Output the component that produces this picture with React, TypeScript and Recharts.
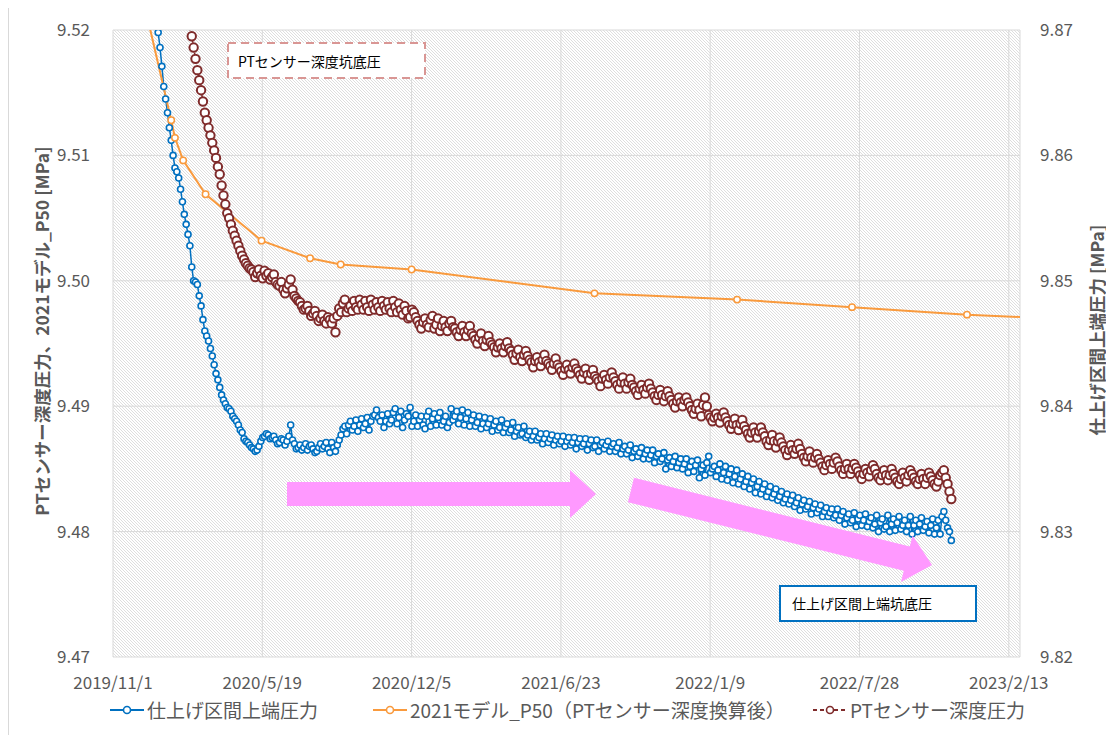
import React from 'react';
import { LineChart, Line, XAxis, YAxis, CartesianGrid, Legend } from 'recharts';

// ---- axes ----
const xTickSerials = [43770, 43970, 44170, 44370, 44570, 44770, 44970];
const xTickLabels = ['2019/11/1', '2020/5/19', '2020/12/5', '2021/6/23', '2022/1/9', '2022/7/28', '2023/2/13'];
const xDomain = [43770, 44985];
const leftTicks = [9.47, 9.48, 9.49, 9.5, 9.51, 9.52];
const rightTicks = [9.82, 9.83, 9.84, 9.85, 9.86, 9.87];

// ---- series ----
// 仕上げ区間上端圧力 (right axis): readings every 5 days from day 58 after 2019/11/1,
// plus the readings in between (day 60.5 + 5i)
const DAY0 = 43770;
const sampleStep = 5;
const blueStartDay = 58;
const blueValues = [
  9.8712, 9.8686, 9.8655, 9.8634, 9.8612, 9.859, 9.8582, 9.8563, 9.8545, 9.8528,
  9.85, 9.8497, 9.848, 9.846, 9.8452, 9.844, 9.8426, 9.8415, 9.8405, 9.8399,
  9.8396, 9.839, 9.8385, 9.8379, 9.8372, 9.8369, 9.8366, 9.8365, 9.8372, 9.8376,
  9.8377, 9.8375, 9.8373, 9.8371, 9.8373, 9.8372, 9.8385, 9.837, 9.8367, 9.8365,
  9.837, 9.8368, 9.8366, 9.8364, 9.837, 9.8368, 9.8366, 9.8371, 9.8364, 9.8373,
  9.8382, 9.8378, 9.8388, 9.8384, 9.838, 9.839, 9.8386, 9.8381, 9.8392, 9.8397,
  9.8388, 9.8383, 9.8394, 9.8389, 9.8398, 9.8391, 9.8383, 9.8394, 9.8399, 9.8388,
  9.8384, 9.8392, 9.8382, 9.8396, 9.839, 9.8385, 9.8395, 9.8388, 9.8383, 9.8398,
  9.8392, 9.8386, 9.8397, 9.839, 9.8384, 9.8393, 9.8387, 9.8382, 9.8391, 9.8386,
  9.838, 9.8388, 9.8383, 9.8379, 9.8386, 9.8381, 9.8376, 9.8383, 9.8378, 9.8375,
  9.838, 9.8376, 9.8373, 9.8378, 9.8374, 9.8371, 9.8377, 9.8373, 9.837, 9.8376,
  9.8372, 9.8369, 9.8375, 9.8371, 9.8368, 9.8374, 9.837, 9.8367, 9.8373, 9.8369,
  9.8366, 9.8372, 9.8368, 9.8364, 9.8371, 9.8366, 9.8362, 9.8369, 9.8364, 9.836,
  9.8367, 9.8362, 9.8358, 9.8365, 9.836, 9.8356, 9.8363, 9.8357, 9.8352, 9.836,
  9.8355, 9.835, 9.8358, 9.8352, 9.8348, 9.8357, 9.835, 9.8345, 9.836, 9.835,
  9.8344, 9.8354, 9.8347, 9.8341, 9.835, 9.8344, 9.8338, 9.8346, 9.834, 9.8334,
  9.8342, 9.8336, 9.833, 9.8338, 9.8332, 9.8327, 9.8334, 9.8328, 9.8323, 9.833,
  9.8325, 9.832, 9.8327, 9.8322, 9.8318, 9.8324, 9.8319, 9.8315, 9.8321, 9.8316,
  9.8312, 9.8318, 9.8313, 9.8309, 9.8316, 9.8311, 9.8307, 9.8315, 9.831, 9.8305,
  9.8314, 9.8308, 9.8303, 9.8313, 9.8307, 9.8302, 9.8313, 9.8306, 9.8301, 9.8312,
  9.8305, 9.83, 9.8312, 9.8305, 9.83, 9.8311, 9.8304, 9.8299, 9.831, 9.8303,
  9.8298, 9.8316, 9.8303, 9.8293,
];
const blueMidStartDay = 60.5;
const blueMidValues = [
  9.8698, 9.8671, 9.8645, 9.8622, 9.86, 9.8587, 9.8573, 9.8553, 9.8537, 9.8511,
  9.8499, 9.8488, 9.8469, 9.8456, 9.8446, 9.8433, 9.8421, 9.8409, 9.8402, 9.8398,
  9.8392, 9.8388, 9.8381, 9.8374, 9.8371, 9.8367, 9.8364, 9.8368, 9.8375, 9.8378,
  9.8374, 9.8376, 9.837, 9.8374, 9.8369, 9.8376, 9.8373, 9.8366, 9.8369, 9.8367,
  9.8365, 9.8369, 9.8363, 9.8367, 9.8366, 9.8371, 9.8363, 9.8367, 9.8369, 9.8377,
  9.8384, 9.8385, 9.8381, 9.8389, 9.8385, 9.8383, 9.8391, 9.8388, 9.8393, 9.8391,
  9.8393, 9.8388, 9.8386, 9.8395, 9.8386, 9.8396, 9.8389, 9.8392, 9.8384, 9.8393,
  9.8389, 9.8385, 9.8392, 9.8384, 9.8394, 9.8391, 9.8385, 9.8392, 9.8387, 9.8389,
  9.8396, 9.8391, 9.8385, 9.8395, 9.8389, 9.8384, 9.8392, 9.8386, 9.8383, 9.839,
  9.8385, 9.8381, 9.8389, 9.8383, 9.8379, 9.8387, 9.838, 9.8377, 9.8384, 9.8377,
  9.8373, 9.838, 9.8375, 9.837, 9.8378, 9.8374, 9.8369, 9.8376, 9.8372, 9.8368,
  9.8375, 9.8371, 9.8366, 9.8374, 9.837, 9.8365, 9.8373, 9.8368, 9.8364, 9.8371,
  9.8369, 9.8364, 9.837, 9.8367, 9.8362, 9.8368, 9.8365, 9.8359, 9.8366, 9.8363,
  9.8358, 9.8365, 9.8361, 9.8355, 9.8362, 9.8358, 9.835, 9.8359, 9.8356, 9.8351,
  9.8358, 9.8354, 9.8347, 9.8356, 9.8353, 9.8343, 9.8353, 9.8355, 9.8347, 9.8352,
  9.8349, 9.8342, 9.8352, 9.8346, 9.8339, 9.8349, 9.8342, 9.8336, 9.8344, 9.8339,
  9.8331, 9.834, 9.8334, 9.8328, 9.8336, 9.833, 9.8325, 9.8332, 9.8326, 9.8322,
  9.8329, 9.8323, 9.8317, 9.8325, 9.832, 9.8314, 9.8322, 9.8318, 9.8312, 9.8319,
  9.8315, 9.8311, 9.8318, 9.8313, 9.8306, 9.8314, 9.8309, 9.8304, 9.8313, 9.8309,
  9.8304, 9.8311, 9.8306, 9.83, 9.831, 9.8304, 9.83, 9.831, 9.8307, 9.8302,
  9.8309, 9.8305, 9.8298, 9.8309, 9.8306, 9.8301, 9.8308, 9.8305, 9.8298, 9.8309,
  9.8312, 9.8309, 9.83,
];

// PTセンサー深度圧力 (left axis): readings every 5 days from day 103, plus in-between readings
const brownStartDay = 103;
const brownValues = [
  9.5204, 9.5186, 9.5168, 9.5152, 9.5134, 9.5122, 9.511, 9.5098, 9.5085, 9.5068,
  9.5054, 9.5045, 9.5036, 9.5028, 9.502, 9.5014, 9.501, 9.5007, 9.5006, 9.5004,
  9.5008, 9.5006, 9.5003, 9.4999, 9.4996, 9.4993, 9.4994, 9.5001, 9.4988, 9.4984,
  9.498, 9.4978, 9.4976, 9.4974, 9.4972, 9.497, 9.4968, 9.4971, 9.4966, 9.4959,
  9.4978, 9.4982, 9.4975, 9.498, 9.4984, 9.4977, 9.4981, 9.4984, 9.4976, 9.4981,
  9.4983, 9.4976, 9.498, 9.4983, 9.4975, 9.4979, 9.4982, 9.4973, 9.4976, 9.4971,
  9.4975, 9.4968, 9.4962, 9.497, 9.4963, 9.4972, 9.4965, 9.496, 9.4968, 9.496,
  9.4968, 9.4962, 9.4956, 9.4964, 9.4956, 9.4964, 9.4956, 9.495, 9.4958, 9.4948,
  9.4956, 9.4949, 9.4943, 9.495, 9.4943, 9.4951, 9.4944, 9.4937, 9.4945, 9.4936,
  9.4944, 9.4937, 9.4931, 9.4939, 9.4932, 9.4941, 9.4934, 9.4929, 9.4938, 9.4931,
  9.4925, 9.4933, 9.4926, 9.4934, 9.4928, 9.4922, 9.493, 9.4921, 9.4929, 9.4922,
  9.4916, 9.4925, 9.4918, 9.4927, 9.492, 9.4914, 9.4923, 9.4914, 9.4922, 9.4915,
  9.4909, 9.4917, 9.491, 9.4918, 9.4911, 9.4905, 9.4913, 9.4904, 9.4912, 9.4905,
  9.4899, 9.4907, 9.49, 9.4907, 9.49, 9.4894, 9.4902, 9.4892, 9.4907, 9.4893,
  9.4888, 9.4894, 9.4887, 9.4895, 9.4888, 9.4882, 9.489, 9.4881, 9.4889, 9.4881,
  9.4875, 9.4883, 9.4875, 9.4883, 9.4876, 9.4869, 9.4877, 9.4867, 9.4875, 9.4868,
  9.4861, 9.4869, 9.4862, 9.487, 9.4862, 9.4856, 9.4864, 9.4855, 9.4862, 9.4855,
  9.4849, 9.4857, 9.485, 9.4859, 9.4852, 9.4846, 9.4854, 9.4846, 9.4854, 9.4848,
  9.4842, 9.485, 9.4844, 9.4853, 9.4846, 9.4841, 9.4849, 9.4841, 9.485, 9.4843,
  9.4838, 9.4847, 9.484, 9.4849, 9.4843, 9.4838, 9.4846, 9.4838, 9.4847, 9.4841,
  9.4836, 9.4845, 9.4849, 9.4838, 9.4826,
];
const brownMidStartDay = 105.5;
const brownMidValues = [
  9.5195, 9.5177, 9.516, 9.5143, 9.5128, 9.5116, 9.5104, 9.5091, 9.5076, 9.5061,
  9.505, 9.504, 9.5032, 9.5024, 9.5017, 9.5012, 9.5009, 9.5003, 9.5009, 9.5002,
  9.5004, 9.5001, 9.5005, 9.4997, 9.4999, 9.499, 9.4997, 9.4993, 9.4986, 9.4983,
  9.4977, 9.498, 9.4972, 9.4976, 9.4968, 9.4973, 9.4966, 9.4969, 9.497, 9.4972,
  9.4975, 9.4985, 9.4978, 9.4976, 9.4979, 9.4985, 9.4977, 9.4979, 9.4985, 9.4977,
  9.4979, 9.4984, 9.4977, 9.4978, 9.4984, 9.4975, 9.4977, 9.498, 9.497, 9.4977,
  9.4971, 9.4965, 9.4967, 9.4965, 9.4969, 9.4962, 9.497, 9.4964, 9.4963, 9.4966,
  9.4963, 9.4959, 9.4961, 9.4959, 9.4961, 9.4958, 9.4953, 9.4955, 9.4952, 9.4953,
  9.4951, 9.4947, 9.4947, 9.4946, 9.4948, 9.4946, 9.4941, 9.4942, 9.4939, 9.4941,
  9.494, 9.4935, 9.4936, 9.4935, 9.4937, 9.4936, 9.4932, 9.4934, 9.4933, 9.4928,
  9.493, 9.4929, 9.4931, 9.493, 9.4925, 9.4927, 9.4925, 9.4926, 9.4924, 9.492,
  9.4922, 9.4921, 9.4923, 9.4923, 9.4917, 9.4919, 9.4918, 9.4919, 9.4917, 9.4912,
  9.4914, 9.4913, 9.4915, 9.4914, 9.4908, 9.4909, 9.4909, 9.4908, 9.4908, 9.4902,
  9.4904, 9.4903, 9.4905, 9.4903, 9.4897, 9.4898, 9.4897, 9.4901, 9.49, 9.4891,
  9.4891, 9.4891, 9.4892, 9.4891, 9.4885, 9.4886, 9.4885, 9.4886, 9.4884, 9.4878,
  9.4879, 9.4879, 9.488, 9.4879, 9.4872, 9.4873, 9.4872, 9.4872, 9.4871, 9.4865,
  9.4865, 9.4865, 9.4866, 9.4866, 9.4859, 9.486, 9.4859, 9.4859, 9.4858, 9.4852,
  9.4853, 9.4854, 9.4855, 9.4856, 9.4849, 9.485, 9.485, 9.485, 9.4851, 9.4845,
  9.4846, 9.4847, 9.4849, 9.485, 9.4843, 9.4845, 9.4845, 9.4845, 9.4846, 9.484,
  9.4842, 9.4843, 9.4845, 9.4846, 9.484, 9.4842, 9.4842, 9.4843, 9.4844, 9.4838,
  9.484, 9.4847, 9.4843, 9.4832,
];

// 2021モデル_P50（PTセンサー深度換算後） (left axis), Excel date serials
const orangeDates = [43806, 43848, 43853, 43864, 43894, 43969, 44034, 44075, 44170, 44415, 44606, 44760, 44914, 45068];
const orangeValues = [9.5236, 9.5128, 9.5114, 9.5096, 9.5069, 9.5032, 9.5018, 9.5013, 9.5009, 9.499, 9.4985, 9.4979, 9.4973, 9.4969];

const seriesNames = ['仕上げ区間上端圧力', '2021モデル_P50（PTセンサー深度換算後）', 'PTセンサー深度圧力'];
const leftTitle = 'PTセンサー深度圧力、2021モデル_P50 [MPa]';
const rightTitle = '仕上げ区間上端圧力 [MPa]';
const note1 = 'PTセンサー深度坑底圧';
const note2 = '仕上げ区間上端坑底圧';

const toPoints = (vals: number[], start: number) => vals.map((v, i) => ({ x: DAY0 + start + i * sampleStep, v }));
const byX = (a: { x: number }, b: { x: number }) => a.x - b.x;
const blueData = [...toPoints(blueValues, blueStartDay), ...toPoints(blueMidValues, blueMidStartDay)].sort(byX);
const brownData = [...toPoints(brownValues, brownStartDay), ...toPoints(brownMidValues, brownMidStartDay)].sort(byX);
const orangeData = orangeDates.map((d, i) => ({ x: d, v: orangeValues[i] }));

const BLUE = '#0070C0';
const ORANGE = '#F99A3D';
const BROWN = '#7F2B2B';
const PINK = '#FF99FF';
const FONT = "'Noto Sans CJK JP', 'Noto Sans', sans-serif";
const TEXT = '#595959';

const W = 1098;
const H = 727;

const LegendIcon = ({ color, dashed }: { color: string; dashed?: boolean }) => (
  <svg width={34} height={14} style={{ display: 'block' }}>
    <line x1={0} y1={7} x2={34} y2={7} stroke={color} strokeWidth={2} strokeDasharray={dashed ? '4 3' : undefined} />
    <circle cx={17} cy={7} r={3.5} fill="#fff" stroke={color} strokeWidth={1.6} />
  </svg>
);

const legendItems = [
  { name: seriesNames[0], color: BLUE, iconX: 102, dashed: false },
  { name: seriesNames[1], color: ORANGE, iconX: 365, dashed: false },
  { name: seriesNames[2], color: BROWN, iconX: 805, dashed: true },
];

const LegendContent = () => (
  <div style={{ position: 'relative', width: W, height: 26, fontFamily: FONT, fontSize: 19, color: TEXT }}>
    {legendItems.map((it) => (
      <div key={it.name} style={{ position: 'absolute', left: it.iconX, top: 0, height: 26, display: 'flex', alignItems: 'center', whiteSpace: 'nowrap' }}>
        <LegendIcon color={it.color} dashed={it.dashed} />
        <span style={{ marginLeft: 3, lineHeight: '26px' }}>{it.name}</span>
      </div>
    ))}
  </div>
);

const xFmt = (v: number) => {
  const i = xTickSerials.indexOf(v);
  return i >= 0 ? xTickLabels[i] : '';
};

export default function App() {
  const a2L = Math.hypot(301, 75);
  const a2Ang = (Math.atan2(75, 301) * 180) / Math.PI;
  return (
    <div style={{ position: 'relative', width: W, height: H, background: '#fff', fontFamily: FONT }}>
      <svg width={0} height={0} style={{ position: 'absolute' }}>
        <defs>
          <pattern id="hatch" width={3} height={3} patternUnits="userSpaceOnUse">
            <rect width={3} height={3} fill="#ffffff" />
            <path d="M-1,-1 L4,4 M-1,2 L1,4 M2,-1 L4,1" stroke="#d3d3d3" strokeWidth={0.75} />
          </pattern>
        </defs>
      </svg>
      <div style={{ position: 'absolute', left: 0, top: 0, width: 1, height: H, background: '#d9d9d9' }} />
      <LineChart width={W} height={719} margin={{ top: 22, right: 0, bottom: 0, left: 0 }} style={{ fontFamily: FONT }}>
        <CartesianGrid
          xAxisId="x"
          yAxisId="left"
          stroke="#d9d9d9"
          strokeWidth={1}
          fill="url(#hatch)"
          fillOpacity={1}
        />
        <XAxis
          xAxisId="x"
          type="number"
          dataKey="x"
          scale="linear"
          domain={xDomain}
          ticks={xTickSerials}
          tickFormatter={xFmt}
          interval={0}
          allowDataOverflow
          axisLine={false}
          tickLine={false}
          tickSize={0}
          tickMargin={20}
          height={44}
          tick={{ fontSize: 17, fill: TEXT, fontFamily: FONT }}
        />
        <YAxis
          yAxisId="left"
          orientation="left"
          type="number"
          domain={[9.47, 9.52]}
          ticks={leftTicks}
          interval={0}
          allowDataOverflow
          width={105}
          axisLine={false}
          tickLine={false}
          tickSize={0}
          tickMargin={23}
          tickFormatter={(v: number) => v.toFixed(2)}
          tick={{ fontSize: 17, fill: TEXT, fontFamily: FONT }}
        />
        <YAxis
          yAxisId="right"
          orientation="right"
          type="number"
          domain={[9.82, 9.87]}
          ticks={rightTicks}
          interval={0}
          allowDataOverflow
          width={86}
          axisLine={false}
          tickLine={false}
          tickSize={0}
          tickMargin={20}
          tickFormatter={(v: number) => v.toFixed(2)}
          tick={{ fontSize: 17, fill: TEXT, fontFamily: FONT }}
        />
        <Legend
          verticalAlign="bottom"
          align="left"
          content={() => <LegendContent />}
          wrapperStyle={{ left: 0, bottom: 4, width: W }}
        />
        <Line
          xAxisId="x"
          yAxisId="right"
          name={seriesNames[0]}
          data={blueData}
          dataKey="v"
          type="linear"
          stroke={BLUE}
          strokeWidth={1.5}
          dot={{ r: 3, stroke: BLUE, strokeWidth: 1.6, fill: '#fff' }}
          activeDot={false}
          isAnimationActive={false}
        />
        <Line
          xAxisId="x"
          yAxisId="left"
          name={seriesNames[1]}
          data={orangeData}
          dataKey="v"
          type="linear"
          stroke={ORANGE}
          strokeWidth={2}
          dot={{ r: 3.2, stroke: ORANGE, strokeWidth: 1.5, fill: '#fff' }}
          activeDot={false}
          isAnimationActive={false}
        />
        <Line
          xAxisId="x"
          yAxisId="left"
          name={seriesNames[2]}
          data={brownData}
          dataKey="v"
          type="linear"
          stroke={BROWN}
          strokeWidth={1.5}
          strokeDasharray="4 3"
          dot={{ r: 4.2, stroke: BROWN, strokeWidth: 2, fill: '#fff', strokeDasharray: 'none' }}
          activeDot={false}
          isAnimationActive={false}
        />
      </LineChart>
      <svg width={W + 8} height={H} style={{ position: 'absolute', left: 0, top: 0, pointerEvents: 'none', overflow: 'visible' }}>
        {/* axis titles */}
        <text x={33} y={323} transform="rotate(-90 33 323)" textAnchor="middle" dominantBaseline="central" fontSize={17.5} fontWeight={700} fill={TEXT} fontFamily={FONT}>
          {leftTitle}
        </text>
        <text x={1088} y={322} transform="rotate(-90 1088 322)" textAnchor="middle" dominantBaseline="central" fontSize={17.5} fontWeight={700} fill={TEXT} fontFamily={FONT}>
          {rightTitle}
        </text>
        {/* arrows */}
        <polygon points="279,474 562,474 562,462 588,486 562,510 562,498 279,498" fill={PINK} />
        <g transform={`translate(623 482) rotate(${a2Ang})`}>
          <polygon points={`0,-12.5 ${a2L - 26},-12.5 ${a2L - 26},-24 ${a2L},0 ${a2L - 26},24 ${a2L - 26},12.5 0,12.5`} fill={PINK} />
        </g>
        {/* text boxes */}
        <rect x={220} y={35} width={197} height={35} fill="#fff" stroke="#D99694" strokeWidth={2} strokeDasharray="8 5" />
        <text x={230} y={53} dominantBaseline="central" fontSize={14} fill="#000" fontFamily={FONT}>{note1}</text>
        <rect x={772} y={578} width={196} height={35} fill="#fff" stroke={BLUE} strokeWidth={2} />
        <text x={784} y={595} dominantBaseline="central" fontSize={14} fill="#000" fontFamily={FONT}>{note2}</text>
      </svg>
    </div>
  );
}
